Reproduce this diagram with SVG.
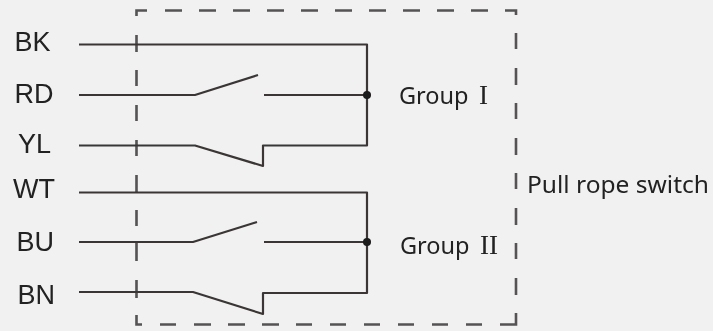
<svg xmlns="http://www.w3.org/2000/svg" width="713" height="331" viewBox="0 0 713 331">
<defs><filter id="soft" x="-5%" y="-5%" width="110%" height="110%"><feGaussianBlur stdDeviation="0.45"/></filter></defs>
<style>
.w{fill:none;stroke:#3a3636;stroke-width:2.2;stroke-linejoin:round}
.b{fill:none;stroke:#555252;stroke-width:2.6}
.d{fill:#1c1a1a}
.l{font-family:"Liberation Sans",Arial,sans-serif;font-size:27px;fill:#222}
.t{font-family:"Noto Sans","DejaVu Sans",sans-serif;font-size:23.500px;fill:#222}
.s{font-family:"Liberation Serif",serif;font-size:27px}
</style>
<rect width="713" height="331" fill="#f1f1f1"/>
<g filter="url(#soft)">
<g id="boundary"><path class="b" d="M136.500 16V10.500H147M165 10.500H182M199 10.500H216M233 10.500H250M267 10.500H284M301 10.500H318M335 10.500H352M369 10.500H386M403 10.500H420M437 10.500H454M471 10.500H488M505 10.500H516V15M516 33V49M516 68V85M516 103V119M516 138V155M516 173V189M516 208V225M516 243V259M516 278V295M516 313V324.500H500M482 324.500H466M448 324.500H432M414 324.500H398M380 324.500H364M346 324.500H330M312 324.500H296M279 324.500H262M245 324.500H228M211 324.500H194M176 324.500H160M142 324.500H136.500V315M136.500 298V280M136.500 261V243M136.500 226V210M136.500 193V175M136.500 156V140M136.500 121V105M136.500 86V70M136.500 52V35"/></g>
<g id="connectors">
<path class="w" d="M79 44.500H367V145.500H263V166L195 145.500H79"/>
<path class="w" d="M79 95H195L258 75M264 95H367"/>
<path class="w" d="M79 192.500H367V293H263V314L193 292H79"/>
<path class="w" d="M79 242H193L257 222M264 242H367"/>
</g>
<g id="junction-1"><circle class="d" cx="367" cy="95" r="4"/></g>
<g id="junction-2"><circle class="d" cx="367" cy="242" r="4"/></g>
<g id="label-bk"><text class="l" x="14.500" y="51">BK</text></g>
<g id="label-rd"><text class="l" x="14.500" y="102.500">RD</text></g>
<g id="label-yl"><text class="l" x="18" y="153">YL</text></g>
<g id="label-wt"><text class="l" x="13" y="198">WT</text></g>
<g id="label-bu"><text class="l" x="16.500" y="251">BU</text></g>
<g id="label-bn"><text class="l" x="17.500" y="304">BN</text></g>
<g id="group-1"><text class="t" x="399" y="104">Group <tspan class="s" x="479">I</tspan></text></g>
<g id="group-2"><text class="t" x="400" y="254">Group <tspan class="s" x="480">II</tspan></text></g>
<g id="switch"><text class="t" x="527" y="193" textLength="182" lengthAdjust="spacingAndGlyphs">Pull rope switch</text></g>
</g>
</svg>
